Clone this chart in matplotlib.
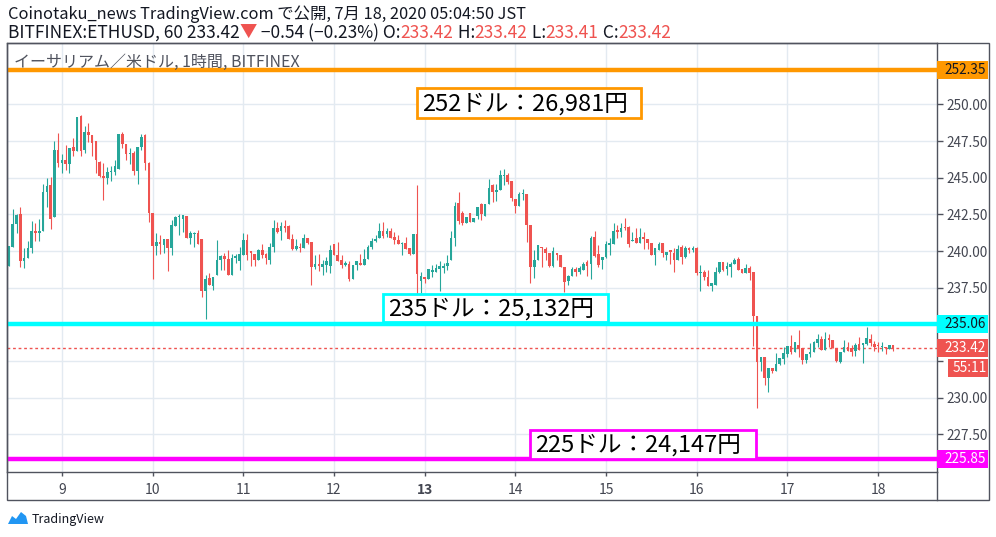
import numpy as np
import matplotlib
matplotlib.use("Agg")
import matplotlib.pyplot as plt
from matplotlib.patches import Rectangle, Polygon
from matplotlib.lines import Line2D
from matplotlib.transforms import blended_transform_factory

plt.rcParams['font.family'] = ['Noto Sans CJK JP', 'DejaVu Sans']

# hourly ETH/USD candles, 8 Jul 10:00 -> 18 Jul 04:00
opens = [239.0, 240.3, 241.84, 242.5, 239.33, 239.5, 240.2, 241.36, 241.2, 241.4,
         244.03, 244.5, 242.3, 246.9, 246.0, 246.2, 245.9, 247.1, 246.85, 249.2,
         246.9, 248.1, 247.9, 247.5, 246.1, 245.1, 245.0, 245.4, 245.4, 245.6,
         248.0, 247.3, 246.6, 246.7, 245.45, 247.1, 247.9, 246.0, 242.6, 240.35,
         240.6, 240.4, 240.8, 240.2, 241.7, 242.3, 242.2, 242.4, 240.9, 241.16,
         241.2, 240.8, 237.3, 238.15, 237.65, 238.34, 239.37, 239.65, 239.44, 238.4,
         239.5, 239.3, 239.7, 240.74, 240.0, 239.8, 239.37, 240.1, 239.8, 239.37,
         240.3, 241.56, 241.4, 241.7, 241.7, 240.79, 240.13, 240.3, 240.22, 240.86,
         240.6, 238.9, 239.1, 238.9, 239.05, 239.0, 240.47, 239.76, 239.37, 239.03,
         239.15, 238.1, 239.03, 239.2, 239.03, 239.49, 240.29, 240.67, 240.86, 241.36,
         241.16, 241.36, 240.97, 240.74, 240.5, 240.56, 240.2, 239.78, 241.13, 237.93,
         238.2, 238.07, 238.58, 238.58, 238.76, 238.85, 238.98, 239.4, 240.9, 243.29,
         242.58, 241.9, 242.6, 242.0, 242.42, 243.2, 242.4, 243.2, 244.5, 244.0,
         244.13, 245.1, 245.2, 244.77, 243.56, 243.1, 243.9, 243.86, 241.8, 238.9,
         239.4, 240.3, 240.16, 239.9, 239.0, 239.9, 239.75, 238.9, 237.93, 238.3,
         238.76, 238.6, 238.7, 239.26, 239.14, 240.97, 239.83, 239.37, 239.6, 240.4,
         240.5, 241.43, 241.27, 241.65, 241.65, 240.7, 240.9, 240.58, 240.97, 240.8,
         240.58, 239.7, 240.05, 240.58, 239.7, 240.05, 239.9, 239.37, 240.3, 239.6,
         240.2, 240.05, 240.2, 238.5, 238.6, 238.24, 237.6, 237.7, 238.6, 239.25,
         238.8, 238.93, 239.15, 239.43, 238.77, 238.5, 238.83, 238.56, 235.55, 232.47,
         232.76, 231.32, 232.0, 231.85, 232.3, 232.65, 233.0, 233.5, 233.1, 233.6,
         233.4, 232.54, 233.0, 233.1, 233.7, 234.0, 233.26, 234.1, 233.95, 233.42,
         232.43, 233.1, 233.44, 233.4, 233.2, 233.67, 233.6, 233.67, 234.0, 233.67,
         233.6, 233.44, 233.48, 233.33, 233.6]

closes = [240.33, 241.84, 242.45, 239.33, 239.5, 240.2, 241.36, 241.2, 241.4, 244.03,
          244.4, 242.2, 246.9, 246.0, 246.2, 245.9, 247.0, 246.85, 249.16, 246.8,
          248.1, 247.9, 247.35, 246.2, 245.1, 245.0, 245.4, 245.45, 245.8, 248.0,
          247.3, 246.6, 246.7, 245.45, 247.1, 247.8, 246.0, 242.6, 240.35, 240.6,
          240.5, 240.8, 240.2, 241.8, 242.3, 242.4, 242.45, 240.9, 241.2, 241.25,
          240.5, 237.3, 238.1, 237.7, 238.25, 239.37, 239.65, 239.44, 238.4, 239.5,
          239.65, 239.8, 240.74, 239.7, 239.87, 239.37, 240.05, 239.7, 239.56, 240.3,
          241.56, 241.31, 241.7, 241.59, 240.79, 240.13, 240.33, 240.22, 240.86, 240.56,
          238.9, 239.1, 238.98, 239.14, 239.3, 240.1, 239.76, 239.3, 239.03, 239.2,
          238.07, 239.03, 239.3, 239.03, 239.49, 240.29, 240.67, 240.81, 241.36, 241.04,
          241.36, 240.9, 240.74, 240.45, 240.56, 240.17, 239.78, 241.13, 238.46, 238.3,
          238.07, 238.76, 238.7, 238.85, 238.98, 238.98, 239.2, 240.9, 243.04, 242.08,
          241.9, 242.3, 242.0, 242.26, 243.0, 242.5, 243.2, 244.3, 244.0, 244.13,
          245.16, 245.2, 244.7, 243.63, 243.1, 243.9, 243.93, 241.78, 238.93, 239.4,
          240.43, 240.2, 239.84, 239.0, 240.0, 239.7, 238.9, 237.9, 238.3, 238.76,
          238.57, 238.85, 239.14, 239.0, 240.9, 239.67, 239.03, 239.6, 240.5, 240.58,
          241.36, 241.27, 241.59, 241.54, 240.5, 240.75, 240.58, 240.97, 240.81, 240.58,
          239.7, 240.2, 240.5, 239.9, 239.95, 239.94, 239.37, 240.17, 239.6, 240.2,
          240.05, 240.2, 238.5, 238.6, 238.24, 237.6, 237.83, 238.6, 239.25, 238.74,
          238.97, 239.15, 239.38, 238.74, 238.5, 238.83, 238.5, 235.57, 232.42, 232.8,
          231.32, 232.0, 231.8, 232.3, 232.7, 233.04, 233.5, 233.1, 233.8, 233.4,
          232.54, 233.0, 233.1, 233.78, 234.0, 233.26, 234.0, 233.93, 233.42, 232.5,
          233.1, 233.44, 233.22, 233.1, 233.62, 233.26, 233.7, 234.07, 233.7, 233.44,
          233.5, 233.48, 233.4, 233.62, 233.42]

highs = [240.33, 242.86, 242.55, 243.0, 240.2, 240.7, 242.05, 241.9, 242.2, 244.6,
         244.98, 245.05, 247.5, 248.06, 246.6, 247.2, 247.0, 247.7, 249.16, 249.25,
         248.5, 248.7, 247.9, 247.5, 246.15, 246.0, 245.7, 245.8, 246.2, 248.0,
         248.1, 247.3, 247.0, 246.85, 247.1, 248.0, 248.0, 246.1, 242.6, 241.2,
         241.1, 240.8, 240.8, 242.1, 242.4, 242.5, 242.45, 242.4, 241.4, 241.3,
         241.45, 240.8, 238.35, 238.5, 238.25, 240.74, 239.7, 239.87, 240.05, 239.8,
         239.8, 240.3, 241.2, 241.15, 240.0, 239.8, 240.17, 240.45, 239.85, 240.56,
         242.1, 241.97, 241.97, 242.1, 241.75, 241.15, 240.79, 240.58, 241.15, 240.9,
         240.6, 239.7, 239.78, 239.37, 239.6, 240.4, 240.5, 240.63, 239.76, 239.3,
         239.3, 239.03, 239.3, 239.83, 240.17, 240.4, 240.86, 241.08, 241.88, 242.0,
         241.54, 241.54, 241.31, 241.1, 240.6, 240.97, 240.2, 241.13, 244.5, 238.6,
         238.2, 238.8, 239.03, 239.14, 239.3, 239.2, 239.7, 241.4, 243.33, 244.0,
         242.76, 242.3, 242.62, 242.26, 243.0, 243.3, 243.2, 244.9, 244.55, 244.6,
         245.5, 245.6, 245.3, 244.77, 243.56, 244.0, 244.25, 243.86, 241.8, 240.07,
         240.43, 240.3, 240.3, 239.9, 240.3, 239.9, 239.75, 238.9, 238.35, 238.9,
         238.9, 239.0, 239.26, 239.37, 241.04, 241.36, 240.4, 239.6, 240.67, 240.86,
         241.88, 241.77, 241.88, 242.27, 241.72, 241.3, 241.54, 241.59, 241.27, 240.8,
         240.58, 240.2, 240.6, 240.58, 239.95, 240.05, 240.2, 240.4, 240.4, 240.35,
         240.3, 240.35, 240.25, 239.04, 238.74, 238.74, 237.83, 238.93, 239.25, 239.25,
         239.25, 239.25, 239.5, 239.57, 238.77, 239.15, 238.95, 238.56, 235.55, 232.8,
         232.76, 232.0, 232.0, 233.04, 232.7, 233.45, 233.56, 234.25, 233.8, 234.6,
         233.4, 233.0, 233.7, 233.85, 234.34, 234.23, 234.5, 234.34, 233.95, 233.42,
         233.1, 233.93, 233.78, 233.6, 233.7, 234.16, 233.7, 234.84, 234.34, 233.9,
         233.82, 233.82, 233.48, 233.62, 233.6]

lows = [239.0, 240.3, 241.24, 238.92, 238.85, 239.5, 239.9, 240.7, 240.7, 241.4,
        243.0, 241.5, 242.3, 245.75, 245.3, 245.5, 245.35, 246.5, 246.85, 246.45,
        246.7, 247.4, 246.5, 245.35, 245.05, 243.5, 244.6, 244.8, 245.2, 245.6,
        247.0, 246.2, 245.9, 245.2, 244.6, 246.9, 245.5, 241.95, 238.1, 239.7,
        239.8, 239.9, 238.65, 239.7, 241.7, 241.1, 241.3, 240.9, 240.45, 240.3,
        240.5, 236.9, 235.4, 237.7, 237.35, 238.34, 238.7, 238.7, 238.4, 238.4,
        239.2, 238.7, 239.7, 239.37, 239.0, 239.0, 239.37, 239.55, 239.14, 239.14,
        239.94, 241.25, 240.74, 241.3, 240.79, 240.05, 240.05, 239.94, 240.22, 240.45,
        237.66, 238.8, 238.64, 238.34, 238.57, 238.5, 239.76, 239.3, 238.85, 238.98,
        237.93, 238.1, 238.7, 239.03, 239.03, 239.49, 240.17, 240.6, 240.86, 240.9,
        240.97, 240.9, 240.51, 240.45, 239.7, 240.13, 239.7, 239.78, 237.1, 237.16,
        237.8, 238.07, 238.23, 238.58, 237.3, 238.5, 238.7, 239.4, 240.37, 241.85,
        241.8, 241.9, 241.95, 242.0, 242.2, 242.1, 242.4, 243.2, 243.33, 243.4,
        244.13, 244.47, 244.54, 243.4, 242.58, 243.1, 243.45, 240.6, 237.8, 238.15,
        239.4, 238.93, 239.38, 238.93, 238.93, 239.4, 238.9, 237.24, 237.7, 238.3,
        238.3, 238.45, 238.7, 238.3, 238.1, 239.6, 238.92, 238.8, 239.5, 239.76,
        240.5, 240.9, 240.97, 241.43, 240.3, 240.7, 240.58, 240.58, 240.17, 240.17,
        239.7, 239.03, 240.05, 239.6, 239.4, 239.14, 238.57, 239.37, 239.14, 239.5,
        239.9, 239.95, 238.35, 237.28, 238.0, 237.6, 237.28, 237.7, 238.5, 238.65,
        238.36, 238.2, 239.1, 238.74, 238.5, 238.5, 238.06, 233.56, 229.3, 231.85,
        230.9, 230.37, 231.67, 231.85, 232.25, 232.3, 232.8, 233.0, 233.1, 232.77,
        232.3, 232.36, 232.8, 233.1, 233.44, 233.26, 233.26, 233.44, 233.42, 232.43,
        232.36, 233.1, 233.22, 232.88, 232.88, 233.26, 232.36, 233.6, 233.55, 233.17,
        233.1, 233.17, 232.95, 233.3, 233.2]

day_labels = ['9', '10', '11', '12', '13', '14', '15', '16', '17', '18']
first_midnight = 15          # candle number of 9 Jul 00:00
price_ticks = [227.5, 230.0, 232.5, 235.0, 237.5, 240.0, 242.5, 245.0, 247.5, 250.0]
hidden_ticks = [232.5, 235.0]  # covered by the price-scale badges
levels = [252.35, 235.06, 225.85]
level_colors = ['#ff9800', '#00ffff', '#ff00ff']
level_text_colors = ['#131722', '#131722', '#ffffff']
notes = ['252ドル：26,981円', '235ドル：25,132円', '225ドル：24,147円']
last_price = 233.42
countdown = '55:11'

UP = '#26a69a'
DOWN = '#ef5350'
FRAME = '#50535e'
TXT = '#131722'

W, H = 996, 537
def fx(x):
    return x / W
def fy(y):
    return 1 - y / H

fig = plt.figure(figsize=(W / 100, H / 100), dpi=100)
ax = fig.add_axes([fx(7), fy(472), (937 - 7) / W, (472 - 43) / H])

o = np.array(opens); c = np.array(closes)
hi = np.maximum(np.array(highs), np.maximum(o, c))
lo = np.minimum(np.array(lows), np.minimum(o, c))
n = np.arange(1, len(c) + 1)
cols = np.where(c >= o, UP, DOWN)

ax.vlines(n, lo, hi, colors=cols, linewidth=0.8, zorder=3)
body = np.maximum(np.abs(c - o), 0.06)
ax.bar(n, body, bottom=np.minimum(o, c), width=0.7, color=cols, linewidth=0, zorder=4)

for lvl, col in zip(levels, level_colors):
    ax.axhline(lvl, color=col, lw=3.2, zorder=5)
ax.axhline(last_price, color=DOWN, lw=1, ls=(0, (2, 2)), zorder=2)

ax.set_xlim(0.46, 246.6)
ax.set_ylim(224.94, 254.18)

ax.yaxis.tick_right()
ax.set_yticks(price_ticks)
ax.set_yticklabels(['' if v in hidden_ticks else f'{v:.2f}' for v in price_ticks])
ax.set_xticks([first_midnight + 24 * k for k in range(len(day_labels))])
ax.set_xticklabels(day_labels)
ax.get_xticklabels()[4].set_fontweight('bold')
ax.tick_params(axis='y', direction='out', length=4, width=1, color=FRAME,
               labelcolor='#434651', labelsize=9.8, pad=3)
ax.tick_params(axis='x', direction='out', length=3, width=1, color=FRAME,
               labelcolor='#434651', labelsize=10, pad=5)
ax.grid(color='#e3eaf1', lw=1)
ax.set_axisbelow(True)
for sp in ax.spines.values():
    sp.set_color(FRAME)
    sp.set_linewidth(1)

# outer frame around price and time scales
fig.add_artist(Rectangle((fx(7), fy(500)), (989 - 7) / W, (500 - 43) / H, fill=False,
                         ec=FRAME, lw=1, transform=fig.transFigure))
fig.add_artist(Line2D([fx(937), fx(937)], [fy(472), fy(500)], color=FRAME, lw=1,
                      transform=fig.transFigure))

# header
fig.text(fx(8), fy(14), 'Coinotaku_news TradingView.com で公開, 7月 18, 2020 05:04:50 JST',
         fontsize=11.8, color=TXT, va='center')
parts = [('BITFINEX:ETHUSD, 60 233.42', TXT), ('▼', DOWN), (' −0.54 (−0.23%) O:', TXT),
         ('233.42', DOWN), (' H:', TXT), ('233.42', DOWN), (' L:', TXT), ('233.41', DOWN),
         (' C:', TXT), ('233.42', DOWN)]
renderer = fig.canvas.get_renderer()
xpos = 8
for s, col in parts:
    t = fig.text(fx(xpos), fy(33), s, fontsize=12.5, color=col, va='center')
    xpos += t.get_window_extent(renderer).width

fig.text(fx(14), fy(62), 'イーサリアム／米ドル, 1時間, BITFINEX', fontsize=11.5,
         color='#50535e', va='center')

# note boxes
boxes = [(417, 88, 641, 118), (383, 294, 608, 322), (530, 430, 756, 459)]
for (x0, y0, x1, y1), col, note in zip(boxes, level_colors, notes):
    fig.add_artist(Rectangle((fx(x0), fy(y1)), (x1 - x0) / W, (y1 - y0) / H, fc='white',
                             ec=col, lw=2, transform=fig.transFigure, zorder=6))
    fig.text(fx(x0 + 5), fy((y0 + y1) / 2 + 1), note, fontsize=17, color='#000000',
             va='center', zorder=7)

# price scale labels
tr = blended_transform_factory(fig.transFigure, ax.transData)
box_h = 18 / 14.67
for lvl, col, tcol in zip(levels + [last_price], level_colors + [DOWN],
                          level_text_colors + ['#ffffff']):
    fig.add_artist(Rectangle((fx(937), lvl - box_h / 2), (988 - 937) / W, box_h, fc=col,
                             ec='none', transform=tr, zorder=6))
    fig.text(fx(944), lvl, f'{lvl:.2f}', transform=tr, fontsize=9.8, color=tcol,
             va='center', zorder=7)
cd_y = last_price - 20 / 14.67
fig.add_artist(Rectangle((fx(948), cd_y - box_h / 2), (988 - 948) / W, box_h, fc=DOWN,
                         ec='none', transform=tr, zorder=6))
fig.text(fx(953), cd_y, countdown, transform=tr, fontsize=9.8, color='white',
         va='center', zorder=7)

# TradingView logo
logo = [(8, 524), (12, 516), (16, 519), (21, 512), (26, 516), (28, 524)]
fig.add_artist(Polygon([(fx(a), fy(b)) for a, b in logo], closed=True, fc='#2196f3',
                       ec='none', transform=fig.transFigure))
fig.text(fx(32), fy(519), 'TradingView', fontsize=9, color=TXT, va='center')

fig.savefig('out.png', dpi=100)
